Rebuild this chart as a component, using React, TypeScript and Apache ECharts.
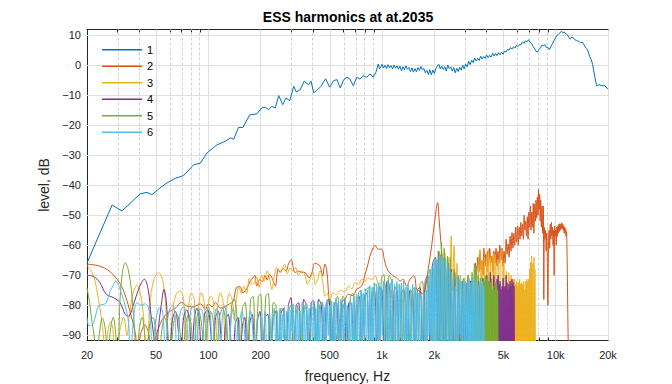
import React, { useEffect, useRef } from 'react';
import * as echarts from 'echarts';

// ---------- data ----------
const majorTicks = [20, 50, 100, 200, 500, 1000, 2000, 5000, 10000, 20000];
const majorLabels = ['20', '50', '100', '200', '500', '1k', '2k', '5k', '10k', '20k'];
const minorTicks = [30, 40, 60, 70, 80, 90, 300, 400, 600, 700, 800, 900, 3000, 4000, 6000, 7000, 8000, 9000];
const yTicks = [-90, -80, -70, -60, -50, -40, -30, -20, -10, 0, 10];
const seriesNames = ['1', '2', '3', '4', '5', '6'];
const seriesColors = ['#0072BD', '#D95319', '#EDB120', '#7E2F8E', '#77AC30', '#4DBEEE'];

// [frequency Hz, level dB]
const fundamental: number[][] = [
  [20, -65.9], [27.9, -46.6], [31.8, -48.6], [40.5, -42.9], [44.3, -42.4], [47.3, -43.2], [51.7, -41.3], [56.5, -39.6],
  [64.5, -37.7], [72.1, -36.8], [82.3, -33.2], [89.8, -32.7], [98.1, -29.3], [112, -26.6], [125, -25.4], [134, -24.3],
  [140, -24.7], [149, -20.8], [158, -20.8], [173, -16.6], [190, -16.3], [203, -14.3], [213, -14.1], [222, -14.9],
  [232, -13.8], [243, -14.3], [254, -10.2], [268, -13.2], [280, -11], [294, -11.9], [310, -7.1], [321, -9], [338, -8.2],
  [356, -5.4], [378, -6.6], [390, -5.4], [404, -9.3], [426, -8.2], [445, -7.1], [473, -4.6], [499, -7.4], [526, -5.2],
  [550, -4.9], [575, -7.7], [601, -4.9], [628, -4.1], [653, -4.7], [683, -6.9], [714, -4.1], [746, -4.7], [779, -3.6],
  [815, -4.1], [852, -3], [890, -4.1], [922, -2.4], [951, 0.3], [966, -1.2], [982, -0.8],
  [1000, 0.2], [1020, -1.0], [1040, -0.1], [1061, -1.2], [1082, 0.1], [1104, -0.9], [1126, -0.2], [1149, -1.3],
  [1172, 0], [1195, -1.1], [1219, -0.3], [1243, -1.4], [1268, -0.4], [1294, -2], [1320, -0.6], [1346, -1.6],
  [1373, -0.3], [1400, -1.4], [1428, -0.8], [1457, -2.2], [1486, -1], [1516, -2.4], [1546, -1.2], [1577, -2.3],
  [1609, -0.9], [1641, -1.8], [1674, -0.5], [1707, -1.6], [1741, -1.2], [1776, -2.6], [1811, -1.8], [1848, -3.2],
  [1885, -1.6], [1922, -3.3], [1961, -1.7], [2000, -2.8], [2040, -1.2], [2081, -0.4], [2122, 0.2], [2165, -1.3],
  [2208, -0.4], [2252, -1.5], [2297, -0.6], [2343, -2], [2390, 0], [2438, -1.2], [2487, -0.6], [2536, -2],
  [2587, -0.9], [2639, -2.6], [2692, -1.1], [2745, -2.2], [2800, -0.8], [2856, -1.7], [2913, -0.1], [2972, -1.3],
  [3031, 0.2], [3092, -0.6], [3154, 1.2], [3217, 0.1], [3281, 1.6], [3347, 0.8], [3414, 2.3], [3482, 1.3],
  [3552, 2.2], [3623, 1.5], [3695, 2.9], [3769, 2], [3845, 2.8], [3921, 2.2], [4000, 3.3], [4080, 2.4], [4162, 3.2],
  [4245, 2.6], [4330, 3.9], [4416, 3], [4505, 3.8], [4595, 3.1], [4687, 4.1], [4780, 3.4], [4876, 4.2], [4973, 3.6],
  [5073, 4.6], [5174, 4.3], [5278, 5.2], [5383, 4.9], [5491, 5.8], [5600, 5.3], [5712, 6], [5827, 5.6], [5943, 6.6],
  [6062, 6.1], [6183, 6.8], [6307, 6.7], [6433, 7.7], [6562, 7.2], [6693, 8], [6827, 7.7], [6963, 8.4], [7103, 7.6],
  [7245, 7.2], [7390, 6.2], [7537, 5.6], [7688, 4.6], [7842, 4.3], [7999, 5.1], [8159, 5.6], [8322, 6.6], [8488, 6.3],
  [8658, 6.8], [8831, 5.8], [9008, 5.9], [9188, 5.1], [9372, 6], [9559, 7], [9751, 8], [9946, 8.9], [10145, 9.8],
  [10348, 10.2], [10554, 10.6], [10765, 11.2], [10981, 10.8], [11200, 10.9], [11424, 10.4], [11653, 10.1],
  [11886, 9.2], [12123, 8.6], [12366, 9.3], [12613, 9.1], [12865, 8.4], [13123, 8.2], [13385, 8], [13653, 7.8],
  [13926, 7.3], [14204, 7.6], [14489, 6.9], [14778, 6], [15074, 5.4], [15375, 4.5], [15683, 2.8], [15996, 1.8],
  [16316, 0.2], [16500, -1.5], [16812, -4.1], [17200, -6.9], [17800, -6.6], [18378, -6.9], [19200, -6.9], [20000, -8],
];

const harmonic2: number[][] = [
  [20, -66.3], [22.8, -66.7], [26, -68], [28.5, -70], [31.2, -73], [33.3, -76.9], [35.5, -82.4], [37.9, -89.1], [39, -95],
  [41, -89], [43, -86.5], [45.5, -90], [47, -100], [50, -90], [53, -86], [56, -83.5], [60, -82], [65, -80.8], [70, -79],
  [75, -80.2], [82, -80.5], [90, -79.5], [96, -81.3], [100, -79.5], [105, -80.5], [110, -79.1], [117, -80.9], [125, -80.5],
  [132, -79.5], [139, -78.7], [145, -74.1], [152, -73.8], [158, -75.8], [166, -74.5], [174, -72], [181, -70.8], [185, -70],
  [190, -73.6], [197, -71.5], [205, -72], [212, -70], [218, -71.5], [225, -69.7], [233, -71], [243, -73.6], [252, -68],
  [260, -69], [268, -67.8], [280, -68.5], [290, -66], [300, -64.9], [308, -67.5], [315, -69.1], [330, -68.6], [345, -69],
  [360, -69.1], [380, -70.8], [395, -69], [410, -66], [425, -66.3], [440, -67], [455, -70.2], [469, -66.3], [480, -68],
  [490, -74.7], [500, -82.4], [510, -100], [550, -90], [575, -84], [600, -80.2], [640, -76.3], [680, -76.8], [714, -74.7],
  [762, -73.6], [798, -69.7], [825, -66.9], [852, -63.6], [890, -60.8], [910, -60], [951, -61.3], [994, -61.3],
  [1030, -64.7], [1060, -67.4], [1104, -69.1], [1160, -70.2], [1210, -70.8], [1270, -71.9], [1320, -71.3], [1385, -73.6],
  [1450, -71.3], [1530, -70.2], [1582, -74.7], [1640, -75.2], [1720, -76.3], [1780, -74], [1845, -68], [1930, -60.2],
  [2016, -51.3], [2090, -45.8], [2130, -51.3], [2190, -60.2], [2230, -65.8], [2300, -70], [2400, -73], [2600, -75],
  [2900, -74], [3200, -72], [3400, -72], [3450, -66], [3500, -70], [3560, -64], [3610, -69], [3660, -62], [3710, -68],
  [3760, -65], [3810, -70], [3860, -61], [3910, -67], [3960, -63], [4010, -69], [4060, -62], [4110, -67], [4170, -61],
  [4230, -66], [4290, -63.6], [4350, -69], [4410, -62], [4470, -66], [4530, -61], [4590, -67], [4650, -62], [4710, -66],
  [4770, -60], [4840, -65], [4900, -61], [4970, -67], [5040, -62], [5110, -66], [5180, -58], [5250, -63], [5320, -59.5],
  [5390, -64], [5460, -57], [5530, -62], [5600, -55.8], [5670, -61], [5740, -56], [5810, -60], [5880, -54], [5950, -59],
  [6020, -53.6], [6090, -60], [6160, -54], [6230, -58], [6300, -52.4], [6370, -57], [6440, -53], [6510, -58], [6580, -50],
  [6650, -55], [6720, -52], [6790, -57], [6860, -50.5], [6930, -58], [7000, -49], [7070, -54], [7140, -46.9], [7210, -55],
  [7280, -49], [7350, -54], [7420, -46], [7490, -56], [7560, -46.3], [7630, -52], [7700, -45], [7770, -51], [7840, -44],
  [7910, -50], [7960, -41.3], [8020, -48], [8080, -43], [8140, -52], [8200, -45], [8270, -54], [8340, -47], [8410, -56],
  [8480, -46.9], [8540, -78], [8600, -54], [8670, -58], [8740, -55], [8810, -62], [8880, -56], [8950, -66], [9020, -80],
  [9090, -60], [9160, -55], [9230, -61], [9300, -53], [9370, -58], [9440, -52.4], [9510, -57], [9580, -54], [9650, -60],
  [9720, -55], [9790, -70], [9860, -53.6], [9930, -57], [10000, -55], [10070, -60], [10140, -54], [10210, -57],
  [10280, -53.5], [10350, -56], [10420, -53], [10490, -55.5], [10560, -52.8], [10630, -55], [10700, -53], [10770, -54.5],
  [10840, -52.5], [10910, -54.5], [10980, -53], [11050, -55], [11120, -53.5], [11190, -56], [11260, -54], [11330, -56],
  [11400, -54.5], [11470, -57], [11540, -55.5], [11600, -60], [11660, -68], [11720, -80], [11800, -92], [11870, -100],
];

const harmonic3: number[][] = [
  [20, -66.7], [21.8, -70.2], [23.3, -78], [24.4, -85.8], [25.6, -95], [26.5, -88], [27.3, -85.5], [28.2, -88], [29, -100],
  [31, -88], [32.5, -84], [34, -90], [35, -84], [36.5, -77], [38.8, -73.3], [40.6, -76], [42.5, -85], [44, -100], [46, -80],
  [48.5, -71.5], [51.7, -69.1], [55, -72.5], [57.5, -85], [59.5, -100], [62, -83], [65, -76.5], [68.9, -75.2], [72, -78],
  [74.5, -100], [77, -80], [80, -76], [83, -78], [86, -100], [88, -80], [91, -75.8], [95, -80], [97.5, -100], [100, -80],
  [103, -76.9], [107, -79], [110, -100], [113, -81], [117, -75.8], [121, -78], [125, -92], [128, -80], [132, -76],
  [137, -78], [141, -85], [145, -78], [150, -74], [155, -76], [160, -73.6], [166, -76], [172, -71], [178, -73],
  [184, -72.5], [190, -70.5], [196, -74], [203, -70], [210, -72], [218, -68.5], [225, -71], [232, -74.7], [240, -70],
  [248, -67.4], [256, -69], [265, -68], [275, -66.3], [285, -69.5], [295, -67.5], [305, -68.5], [318, -67.5], [330, -70],
  [345, -68.5], [360, -70], [372, -73], [385, -71.3], [400, -69], [413, -73], [425, -71.5], [440, -68.5], [455, -72],
  [470, -77], [485, -76], [500, -79], [520, -75.8], [545, -76.5], [575, -75], [610, -75.5], [640, -73.6], [670, -74.5],
  [700, -72.4], [735, -73], [762, -71.3], [800, -72], [830, -70.8], [870, -71.5], [910, -70.2], [950, -73], [990, -76],
  [1020, -92], [1050, -74], [1090, -100], [1130, -75], [1170, -95], [1210, -74], [1250, -100], [1300, -76], [1350, -92],
  [1400, -75], [1450, -100], [1500, -74], [1560, -95], [1620, -76], [1680, -100], [1740, -75], [1800, -92], [1860, -72],
  [1920, -100], [1980, -68], [2040, -95], [2100, -65], [2160, -100], [2230, -63], [2270, -95], [2300, -62.4], [2350, -72],
  [2400, -64], [2450, -78], [2500, -56.9], [2540, -75], [2600, -60.2], [2650, -78], [2700, -66], [2760, -100], [2830, -70],
  [2900, -100], [2980, -71], [3060, -100], [3140, -70], [3220, -100], [3300, -71], [3380, -100], [3460, -70], [3540, -100],
  [3600, -66], [3660, -61.3], [3700, -95], [3760, -65], [3820, -100], [3880, -64], [3940, -100], [4000, -62.4],
  [4050, -100], [4090, -61.3], [4150, -95], [4220, -64], [4290, -100], [4360, -63], [4420, -100], [4470, -63],
  [4530, -100], [4600, -66], [4670, -64.7], [4730, -100], [4800, -63], [4890, -61.5], [4950, -100], [5030, -66],
  [5100, -100], [5200, -68.6], [5280, -100], [5370, -69], [5450, -100], [5530, -70], [5600, -95], [5690, -71.3],
  [5760, -100], [5800, -71.3], [5840, -100], [5880, -73], [5920, -100], [5960, -72], [6000, -100], [6040, -73.6],
  [6080, -100], [6120, -72.4], [6160, -100], [6200, -71.3], [6245, -100], [6285, -73], [6330, -100], [6370, -72.4],
  [6410, -100], [6455, -73], [6500, -100], [6540, -72], [6585, -100], [6630, -74.7], [6675, -100], [6720, -72],
  [6765, -100], [6810, -71.3], [6855, -100], [6900, -72], [6945, -100], [6990, -71.3], [7035, -100], [7080, -68],
  [7125, -100], [7170, -65.8], [7220, -100], [7266, -63.6], [7320, -100], [7380, -66], [7430, -100], [7500, -64],
  [7550, -100], [7591, -68], [7640, -100],
];

const harmonic4: number[][] = [
  [20, -70], [21.8, -70.4], [23.7, -72.4], [25.8, -76.3], [28.3, -77.4], [31, -79.1], [33.2, -83], [34.7, -83.6],
  [36.8, -80.2], [40, -74.1], [42.8, -71.3], [45, -74.7], [46.8, -83.6], [48.5, -90.2], [50, -100], [51.5, -88],
  [53.5, -80], [55.5, -74.7], [57.5, -80], [59.5, -100], [62, -85], [64.5, -82], [67, -88], [69, -100], [72, -84],
  [75, -81.5], [78, -86], [80, -100], [83, -84], [86, -81], [89, -86], [91, -100], [95, -83], [99, -81.5], [103, -88],
  [106, -100], [110, -84], [114, -82], [118, -90], [121, -100], [126, -85], [130, -83], [134, -90], [138, -100],
  [143, -86], [148, -84], [152, -100], [157, -87], [162, -84], [167, -100], [173, -86], [179, -83], [185, -100],
  [192, -85], [198, -82], [205, -100], [212, -84], [220, -83], [228, -100], [236, -84], [244, -82], [252, -100],
  [261, -83], [270, -81], [279, -100], [289, -80], [299, -77.4], [309, -100], [320, -80], [331, -79.1], [342, -100],
  [354, -78], [366, -80], [378, -100], [391, -79], [404, -78.5], [418, -100], [432, -78], [447, -80], [462, -100],
  [478, -79], [494, -78], [511, -100], [528, -80], [546, -79], [565, -100], [584, -79.5], [604, -78], [625, -100],
  [646, -79], [668, -80], [691, -100], [715, -78], [739, -77], [764, -100], [790, -77], [817, -76], [845, -100],
  [874, -76], [904, -75], [935, -100], [967, -74], [1000, -75], [1034, -100], [1069, -72], [1106, -74], [1144, -100],
  [1183, -74], [1223, -75], [1265, -100], [1308, -75], [1353, -76], [1399, -100], [1447, -75], [1497, -76], [1548, -100],
  [1601, -75], [1656, -74], [1713, -100], [1772, -72], [1833, -70], [1896, -100], [1960, -66], [2030, -64], [2080, -100],
  [2110, -62], [2150, -100], [2190, -63], [2240, -100], [2290, -64], [2340, -100], [2390, -66], [2440, -100], [2500, -68],
  [2560, -100], [2620, -69], [2680, -100], [2750, -71], [2820, -100], [2900, -72], [2980, -100], [3060, -73], [3140, -100],
  [3230, -72], [3320, -100], [3410, -73], [3500, -100], [3600, -72], [3700, -100], [3800, -71], [3900, -100], [4000, -70],
  [4100, -100], [4200, -69], [4300, -100], [4400, -70], [4500, -100], [4600, -71.3], [4630, -100], [4660, -70],
  [4690, -100], [4720, -73], [4750, -100], [4785, -72], [4815, -100], [4850, -74.7], [4880, -100], [4915, -73.6],
  [4945, -100], [4980, -71], [5010, -100], [5045, -74], [5075, -100], [5110, -73.6], [5145, -100], [5180, -70],
  [5215, -100], [5250, -72.4], [5285, -100], [5320, -74.7], [5355, -100], [5390, -73], [5425, -100], [5460, -72],
  [5495, -100], [5530, -73.6], [5565, -100], [5600, -71.3], [5640, -100], [5675, -72.4], [5710, -100], [5750, -73.6],
  [5790, -100],
];

const harmonic5: number[][] = [
  [20, -74.1], [20.7, -79.1], [21.4, -85.8], [22, -90.2], [22.6, -100], [23.5, -90], [24.5, -84.2], [25.5, -88],
  [26.3, -100], [27.3, -88], [28.3, -84], [29.3, -90], [30, -100], [31, -78], [32, -69], [33.2, -65.8], [34.5, -68],
  [36, -74.7], [36.8, -81.3], [37.6, -88], [38.3, -100], [40, -88], [41.5, -84], [43, -90], [44, -100], [46, -86],
  [48, -84], [50, -90], [51.5, -100], [54, -88], [56, -84], [58, -88], [60, -100], [63, -86], [66, -83], [69, -90],
  [71, -100], [74, -86], [77, -83], [80, -88], [82, -100], [85, -86], [88, -82], [92, -88], [95, -100], [99, -85],
  [103, -82], [107, -86], [111, -100], [116, -84], [121, -81], [126, -86], [131, -100], [136, -80], [141, -78],
  [146, -84], [151, -100], [157, -81], [163, -79], [169, -100], [175, -78], [181, -77], [187, -100], [194, -77],
  [200, -76.3], [207, -100], [214, -77], [221, -76], [229, -95], [237, -79], [245, -80], [253, -100], [262, -81],
  [271, -82], [280, -100], [290, -82], [300, -80], [310, -100], [321, -82], [332, -81], [344, -100], [356, -80],
  [368, -82], [381, -100], [394, -81], [408, -80], [422, -100], [437, -80], [452, -79], [468, -100], [484, -80],
  [501, -78], [518, -100], [536, -79], [555, -77], [574, -100], [594, -77], [615, -78], [636, -100], [658, -77],
  [681, -76], [705, -100], [730, -76], [755, -75], [781, -100], [808, -75], [836, -74], [865, -100], [895, -74],
  [926, -73], [958, -100], [991, -71], [1025, -69.7], [1061, -100], [1098, -70], [1136, -72], [1175, -100], [1216, -74],
  [1258, -73], [1302, -100], [1347, -75], [1394, -74], [1442, -100], [1492, -75], [1544, -74], [1598, -100], [1653, -73],
  [1710, -72], [1770, -100], [1831, -70], [1895, -68], [1960, -100], [2030, -64], [2080, -100], [2130, -62], [2170, -100],
  [2200, -59.1], [2240, -95], [2280, -61], [2320, -100], [2380, -63.6], [2420, -100], [2470, -64], [2530, -100],
  [2600, -68], [2680, -100], [2760, -70], [2850, -100], [2940, -71], [3030, -100], [3120, -70], [3210, -100], [3300, -69],
  [3350, -100], [3400, -66], [3440, -100], [3480, -67], [3520, -100], [3570, -70], [3620, -100], [3680, -71],
  [3740, -100], [3780, -72.4], [3805, -100], [3830, -71.3], [3855, -100], [3880, -72], [3905, -100], [3930, -70.2],
  [3955, -100], [3980, -71.3], [4005, -100], [4030, -70.2], [4060, -100], [4090, -72], [4120, -100], [4150, -74],
  [4180, -100], [4210, -72.4], [4240, -100], [4270, -71.3], [4300, -100], [4330, -74.7], [4360, -100], [4390, -73.6],
  [4420, -100], [4450, -74.7], [4480, -100], [4510, -72.4], [4540, -100], [4570, -73], [4600, -100], [4630, -75],
  [4660, -100],
];

const harmonic6: number[][] = [
  [20, -84.1], [20.6, -86.9], [21.8, -85.8], [23.3, -80.2], [24.8, -79.7], [25.8, -79.1], [27.3, -75], [28.2, -73.6],
  [29.2, -71.9], [31, -74.7], [33.2, -80.2], [34.7, -85.8], [35.5, -100], [37, -85], [38.8, -79.1], [41, -80], [43, -79.5],
  [45, -80.5], [46.5, -86], [47.5, -100], [49, -88], [51, -82], [53, -80.5], [55, -84], [56.5, -100], [58, -86], [60, -81],
  [62.5, -80], [64.5, -86], [66, -100], [68, -85], [70, -81], [72.5, -80.5], [74.5, -88], [76, -100], [78, -86],
  [80.5, -80.5], [83, -81], [85, -100], [87, -88], [90, -81], [93, -83], [95, -100], [97.5, -84], [100, -80.5], [103, -84],
  [105, -100], [108, -86], [111, -81], [114, -85], [117, -100], [120, -85], [124, -80], [128, -86], [131, -100], [135, -85],
  [139, -81], [143, -86], [147, -100], [151, -86], [156, -82], [161, -88], [165, -100], [170, -86], [175, -82], [180, -88],
  [185, -100], [190, -86], [195, -83], [200, -84], [206, -96], [212, -82], [218, -100], [225, -83], [232, -92], [239, -81],
  [246, -100], [250, -82], [254, -97], [258, -81], [262, -100], [266, -83], [270, -91], [274, -80.5], [278, -100],
  [282, -82], [286, -94], [290, -80], [295, -100], [299, -81.5], [304, -89], [308, -79.5], [313, -100], [318, -81],
  [322, -96], [327, -80], [332, -100], [337, -82], [342, -90], [347, -79], [353, -100], [358, -80.5], [363, -95],
  [369, -79.5], [374, -100], [380, -81], [386, -88], [392, -80], [398, -100], [404, -79], [410, -97], [416, -81],
  [422, -100], [428, -78.5], [435, -92], [441, -80], [448, -100], [455, -79], [461, -94], [468, -80.5], [475, -100],
  [483, -78], [490, -90], [497, -80], [505, -100], [512, -78.5], [520, -96], [528, -79], [536, -100], [544, -77.5],
  [552, -91], [560, -79], [569, -100], [577, -78], [586, -95], [595, -79.5], [604, -100], [613, -78], [622, -89],
  [631, -80], [641, -100], [650, -78.5], [660, -96], [670, -79], [680, -100], [690, -77], [701, -92], [711, -76.5],
  [722, -100], [733, -76], [744, -94], [755, -75], [766, -100], [778, -76], [790, -90], [801, -74.5], [813, -100],
  [826, -75], [838, -95], [851, -73.5], [863, -100], [876, -74], [890, -92], [903, -72.5], [917, -100], [930, -73],
  [944, -96], [959, -72.4], [973, -100], [988, -74], [1003, -90], [1018, -72], [1033, -100], [1049, -73], [1064, -94],
  [1080, -71.5], [1097, -100], [1113, -72.5], [1130, -92], [1147, -71.3], [1164, -100], [1182, -73], [1199, -96],
  [1217, -72], [1236, -100], [1254, -73.6], [1273, -91], [1292, -72.5], [1312, -100], [1331, -72], [1351, -95],
  [1372, -74], [1392, -100], [1413, -73], [1434, -93], [1456, -74.7], [1478, -100], [1500, -73], [1523, -96], [1545, -74],
  [1569, -100], [1592, -75], [1616, -92], [1640, -76], [1665, -100], [1690, -76.9], [1715, -95], [1741, -75.5],
  [1767, -100], [1794, -75], [1821, -94], [1848, -71], [1865, -90], [1890, -68], [1915, -100], [1940, -66.9],
  [1965, -95], [1990, -65], [2016, -100], [2042, -64.7], [2068, -92], [2095, -65], [2122, -100], [2150, -64],
  [2178, -100], [2206, -63.6], [2235, -95], [2264, -64], [2293, -100], [2323, -64.7], [2353, -100], [2384, -66],
  [2415, -92], [2446, -68], [2478, -100], [2510, -69], [2543, -100], [2576, -71], [2609, -95], [2643, -73.6],
  [2677, -100], [2712, -70], [2747, -100], [2783, -71.3], [2819, -90], [2856, -72], [2893, -100], [2930, -71.3],
  [2968, -100], [3007, -72], [3046, -95], [3086, -72.4], [3126, -100], [3166, -71], [3207, -100], [3249, -72.4],
  [3291, -92], [3334, -70.5], [3377, -100], [3421, -71.3], [3466, -100], [3511, -72], [3556, -95], [3602, -73.6],
  [3649, -100], [3697, -71.3], [3745, -100], [3793, -72], [3830, -100], [3850, -73.6], [3880, -100],
];

const allSeries = [fundamental, harmonic2, harmonic3, harmonic4, harmonic5, harmonic6];

const FONT = '"Liberation Sans", Arial, Helvetica, sans-serif';
const AXIS_COLOR = '#262626';

export default function App() {
  const ref = useRef<HTMLDivElement>(null);

  useEffect(() => {
    document.body.style.margin = '0';
    if (!ref.current) return;
    const chart = echarts.init(ref.current, undefined, { renderer: 'svg' });
    const lg = (f: number) => Math.log10(f);
    const xMin = lg(20);
    const xMax = lg(20000);
    const majorX = majorTicks.map(lg);
    const minorX = minorTicks.map(lg);
    const xFormatter = (v: number) => {
      const i = majorX.findIndex((t) => Math.abs(t - v) < 1e-6);
      return i >= 0 ? majorLabels[i] : '';
    };
    const yFormatter = (v: number) => (v < 0 ? '\u2212' + Math.abs(v) : String(v));

    const baseX = {
      type: 'value',
      min: xMin,
      max: xMax,
      splitLine: { show: false },
      axisLine: { show: false, onZero: false },
      axisLabel: { show: false },
    };

    const gridLines: any[] = [
      ...majorX.map((v) => ({ xAxis: v, lineStyle: { color: '#dfdfdf', type: 'solid', width: 1 } })),
      ...minorX.map((v) => ({ xAxis: v, lineStyle: { color: '#d2d2d2', type: [3, 2], width: 1 } })),
      ...yTicks.map((v) => ({ yAxis: v, lineStyle: { color: '#dfdfdf', type: 'solid', width: 1 } })),
    ];

    const dataSeries = allSeries.map((s, i) => ({
      type: 'line',
      name: seriesNames[i],
      data: s.map(([f, v]) => [lg(f), v]),
      showSymbol: false,
      symbol: 'none',
      smooth: i === 0 ? false : 0.35,
      clip: true,
      silent: true,
      z: 10,
      lineStyle: { color: seriesColors[i], width: 1 },
      itemStyle: { color: seriesColors[i] },
      emphasis: { disabled: true },
    }));

    chart.setOption({
      animation: false,
      title: {
        text: 'ESS harmonics at at.2035',
        left: 348,
        top: 10,
        padding: 0,
        textAlign: 'center',
        textStyle: { fontSize: 14, fontWeight: 'bold', color: '#000', fontFamily: FONT },
      },
      legend: {
        data: seriesNames,
        orient: 'vertical',
        left: 102,
        top: 41.4,
        padding: 0,
        icon: 'rect',
        itemWidth: 40,
        itemHeight: 1.5,
        itemGap: 0,
        selectedMode: false,
        textStyle: { fontSize: 11, color: '#000', lineHeight: 16.5, fontFamily: FONT },
      },
      grid: { left: 87, width: 521, top: 29.5, height: 311, outerBoundsMode: 'none' },
      xAxis: [
        {
          ...baseX,
          position: 'bottom',
          axisLine: { show: true, onZero: false, lineStyle: { color: AXIS_COLOR, width: 1 } },
          axisTick: { show: true, inside: true, length: 5, customValues: majorX, lineStyle: { color: AXIS_COLOR } },
          axisLabel: {
            show: true,
            customValues: majorX,
            formatter: xFormatter,
            color: AXIS_COLOR,
            fontSize: 11,
            margin: 9,
            fontFamily: FONT,
          },
          name: 'frequency, Hz',
          nameLocation: 'middle',
          nameGap: 28,
          nameTextStyle: { fontSize: 14, color: AXIS_COLOR, fontFamily: FONT },
        },
        {
          ...baseX,
          position: 'bottom',
          axisTick: { show: true, inside: true, length: 3, customValues: minorX, lineStyle: { color: AXIS_COLOR } },
        },
        {
          ...baseX,
          position: 'top',
          axisLine: { show: true, onZero: false, lineStyle: { color: AXIS_COLOR, width: 1 } },
          axisTick: { show: true, inside: true, length: 5, customValues: majorX, lineStyle: { color: AXIS_COLOR } },
        },
        {
          ...baseX,
          position: 'top',
          axisTick: { show: true, inside: true, length: 3, customValues: minorX, lineStyle: { color: AXIS_COLOR } },
        },
      ],
      yAxis: [
        {
          type: 'value',
          position: 'left',
          min: -91.7,
          max: 11.8,
          splitLine: { show: false },
          axisLine: { show: true, onZero: false, lineStyle: { color: AXIS_COLOR, width: 1 } },
          axisTick: { show: true, inside: true, length: 5, customValues: yTicks, lineStyle: { color: AXIS_COLOR } },
          axisLabel: {
            show: true,
            customValues: yTicks,
            formatter: yFormatter,
            color: AXIS_COLOR,
            fontSize: 11,
            margin: 6,
            fontFamily: FONT,
          },
          name: 'level, dB',
          nameLocation: 'middle',
          nameGap: 30,
          nameRotate: 90,
          nameTextStyle: { fontSize: 14, color: AXIS_COLOR, fontFamily: FONT },
        },
        {
          type: 'value',
          position: 'right',
          min: -91.7,
          max: 11.8,
          splitLine: { show: false },
          axisLine: { show: true, onZero: false, lineStyle: { color: AXIS_COLOR, width: 1 } },
          axisTick: { show: true, inside: true, length: 5, customValues: yTicks, lineStyle: { color: AXIS_COLOR } },
          axisLabel: { show: false },
        },
      ],
      series: [
        {
          type: 'line',
          name: 'grid',
          data: [],
          silent: true,
          z: 1,
          markLine: {
            silent: true,
            z: 1,
            animation: false,
            symbol: ['none', 'none'],
            label: { show: false },
            emphasis: { disabled: true },
            data: gridLines,
          },
        },
        ...dataSeries,
      ],
    });

    return () => chart.dispose();
  }, []);

  return (
    <div
      ref={ref}
      style={{ position: 'fixed', left: 0, top: 0, width: 672, height: 384, background: '#fff' }}
    />
  );
}
